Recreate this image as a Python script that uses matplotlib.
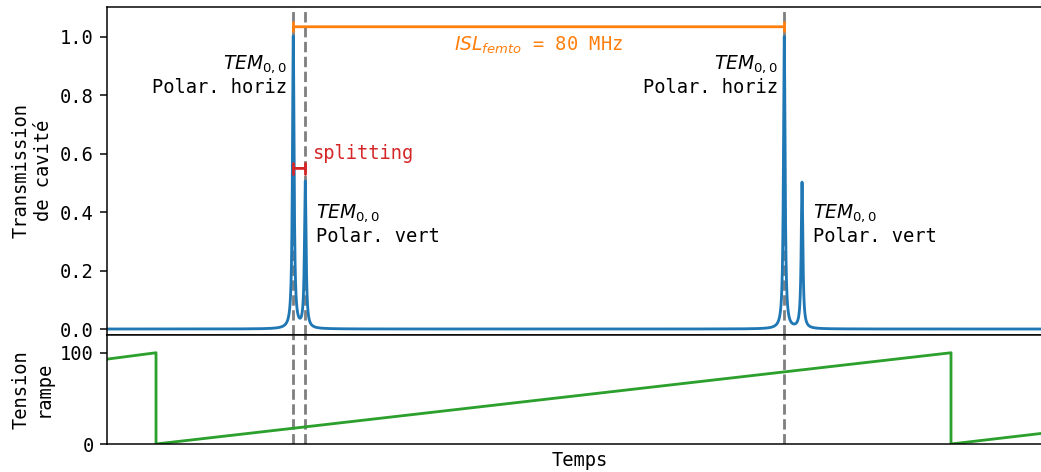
import numpy as np
import matplotlib
matplotlib.use("Agg")
import matplotlib.pyplot as plt

plt.rcParams['font.family'] = ['DejaVu Sans Mono', 'DejaVu Sans']
plt.rcParams['font.size'] = 10

# ---- data (time in arbitrary units, 0..1000) ----
peak_pos = [197.2, 209.9, 717.0, 735.8]      # H, V, H, V
peak_amp = [1.0, 0.5, 1.0, 0.5]
peak_width = 1.03
horiz_peaks = [197.2, 717.0]
vert_peaks = [209.9, 735.8]
marker_lines = [197.2, 209.9, 717.0]

ramp_t = [0, 51.9, 51.9, 893.5, 893.5, 1000]
ramp_v = [93, 100, 0, 100, 0, 12.9]

isl_level = 1.035
split_level = 0.55

t = np.linspace(0, 1000, 40001)
trans = np.zeros_like(t)
for p, a in zip(peak_pos, peak_amp):
    trans += a / (1 + ((t - p) / peak_width) ** 2)

dpi = 135
fig = plt.figure(figsize=(1041 / dpi, 472 / dpi), dpi=dpi)
left = 107 / 1041
right = 1051.6 / 1041
ax1 = fig.add_axes([left, 1 - 334.5 / 472, right - left, (334.5 - 7) / 472])
ax2 = fig.add_axes([left, 1 - 444 / 472, right - left, (444 - 334.5) / 472], sharex=ax1)

for x in marker_lines:
    ax1.axvline(x, color='gray', ls='--', lw=1.5, zorder=1)
    ax2.axvline(x, color='gray', ls='--', lw=1.5, zorder=1)

ax1.plot(t, trans, color='C0', lw=1.5, zorder=2)
ax2.plot(ramp_t, ramp_v, color='C2', lw=1.5, zorder=2)

ax1.set_xlim(0, 1000)
ax1.set_ylim(-0.0188, 1.1027)
ax2.set_ylim(0, 120)
ax1.set_yticks([0.0, 0.2, 0.4, 0.6, 0.8, 1.0])
ax2.set_yticks([0, 100])
ax1.tick_params(axis='x', bottom=False, labelbottom=False)
ax2.tick_params(axis='x', bottom=False, labelbottom=False)

ax1.set_ylabel("Transmission\nde cavité")
ax2.set_ylabel("Tension\nrampe")
ax2.set_xlabel("Temps")
fig.align_ylabels([ax1, ax2])

# ISL bar
ax1.annotate('', xy=(horiz_peaks[0], isl_level), xytext=(horiz_peaks[1], isl_level),
             arrowprops=dict(arrowstyle='|-|,widthA=0.25,widthB=0.25', color='C1',
                             lw=1.5, shrinkA=0, shrinkB=0))
ax1.text((horiz_peaks[0] + horiz_peaks[1]) / 2, 0.973, "$ISL_{femto}$ = 80 MHz",
         color='C1', ha='center', va='center')

# splitting bar
ax1.annotate('', xy=(horiz_peaks[0], split_level), xytext=(vert_peaks[0], split_level),
             arrowprops=dict(arrowstyle='|-|,widthA=0.3,widthB=0.3', color='C3',
                             lw=1.5, shrinkA=0, shrinkB=0))
ax1.text(vert_peaks[0] + 7, 0.6, "splitting", color='C3', ha='left', va='center')

for hp in horiz_peaks:
    ax1.text(hp - 7, 0.87, "$TEM_{0,0}$\nPolar. horiz", ha='right', va='center',
             multialignment='right')
for vp in vert_peaks:
    ax1.text(vp + 11.4, 0.36, "$TEM_{0,0}$\nPolar. vert", ha='left', va='center',
             multialignment='left')

fig.savefig("out.png", dpi=dpi)
